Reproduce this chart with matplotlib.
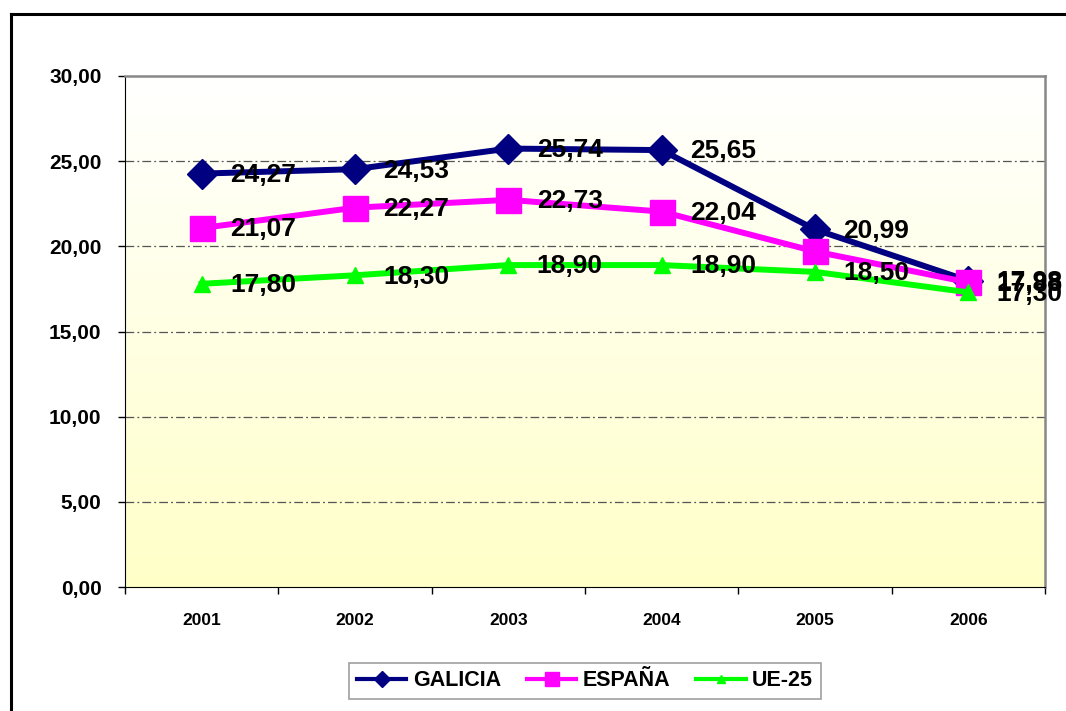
import numpy as np
import matplotlib
matplotlib.use('Agg')
import matplotlib.pyplot as plt
from matplotlib.colors import LinearSegmentedColormap
from matplotlib.lines import Line2D

plt.rcParams['font.family'] = ['Liberation Sans', 'DejaVu Sans']

years = ['2001', '2002', '2003', '2004', '2005', '2006']
galicia = [24.27, 24.53, 25.74, 25.65, 20.99, 17.98]
espana = [21.07, 22.27, 22.73, 22.04, 19.70, 17.88]
ue25 = [17.80, 18.30, 18.90, 18.90, 18.50, 17.30]
# the 2005 label for ESPAÑA is not shown in the chart
espana_show = [True, True, True, True, False, True]

fig = plt.figure(figsize=(10.66, 7.11), dpi=100)
ax = fig.add_axes([125/1066, 1 - 587/711, 920/1066, 511/711])

x = np.arange(len(years))

# gradient background, white at top to pale yellow at bottom
bg = LinearSegmentedColormap.from_list('', ['#FFFFC8', '#FFFFFF'])
grad = np.linspace(0, 1, 256).reshape(-1, 1)
ax.imshow(grad, cmap=bg, aspect='auto', extent=[-0.5, 5.5, 0, 30],
          origin='lower', zorder=0)

# later series drawn on top, like the original
ax.plot(x, galicia, color='#000080', lw=4.3, marker='D', ms=15, zorder=2, label='GALICIA')
ax.plot(x, espana, color='#FF00FF', lw=4.3, marker='s', ms=18, zorder=3, label='ESPAÑA')
ax.plot(x, ue25, color='#00FF00', lw=4.3, marker='^', ms=11, zorder=4, label='UE-25')

def fmt(v):
    return f'{v:.2f}'.replace('.', ',')

for series, show in [(galicia, [True]*6), (espana, espana_show), (ue25, [True]*6)]:
    for xi, v, s in zip(x, series, show):
        if s:
            ax.annotate(fmt(v), (xi, v), xytext=(20.5, -1), textcoords='offset points',
                        ha='left', va='center', fontsize=19, fontweight='bold',
                        zorder=6, annotation_clip=False)

ax.set_xlim(-0.5, 5.5)
ax.set_ylim(0, 30)
ax.set_yticks(np.arange(0, 31, 5))
ax.set_yticklabels([f'{v:.2f}'.replace('.', ',') for v in np.arange(0, 31, 5)],
                   fontsize=15, fontweight='bold')
ax.set_xticks(np.arange(-0.5, 6, 1))
ax.set_xticklabels([])
ax.set_xticks(x, minor=True)
ax.set_xticklabels(years, minor=True, fontsize=12.5, fontweight='bold')
ax.tick_params(axis='x', which='major', direction='out', length=5, width=1)
ax.tick_params(axis='x', which='minor', length=0, pad=19)
ax.tick_params(axis='y', direction='out', length=5, width=1, pad=12)

for yv in range(5, 30, 5):
    ax.axhline(yv, color='#555555', lw=0.9, dashes=(7, 2.5, 1.5, 2.5), zorder=1)

ax.spines['left'].set_color('black')
ax.spines['bottom'].set_color('black')
ax.spines['top'].set_color('#888888')
ax.spines['right'].set_color('#888888')
ax.spines['top'].set_linewidth(1.8)
ax.spines['right'].set_linewidth(1.8)

leg = fig.legend(loc='center', bbox_to_anchor=(585/1066, 1 - 681/711), ncol=3,
                 frameon=True, fancybox=False, edgecolor='#888888',
                 prop={'size': 15.5, 'weight': 'bold'}, handlelength=2.3,
                 columnspacing=1.2, handletextpad=0.3, markerscale=0.55,
                 borderpad=0.35)
leg.get_frame().set_linewidth(1.2)
for h in leg.legend_handles:
    h.set_linewidth(3)

# outer chart border (cut off at right and bottom)
fig.add_artist(Line2D([11/1066, 11/1066], [0, 1 - 14/711], color='black', lw=2.2,
                      transform=fig.transFigure))
fig.add_artist(Line2D([11/1066, 1], [1 - 14/711, 1 - 14/711], color='black', lw=2.2,
                      transform=fig.transFigure))

fig.savefig('out.png', dpi=100)
